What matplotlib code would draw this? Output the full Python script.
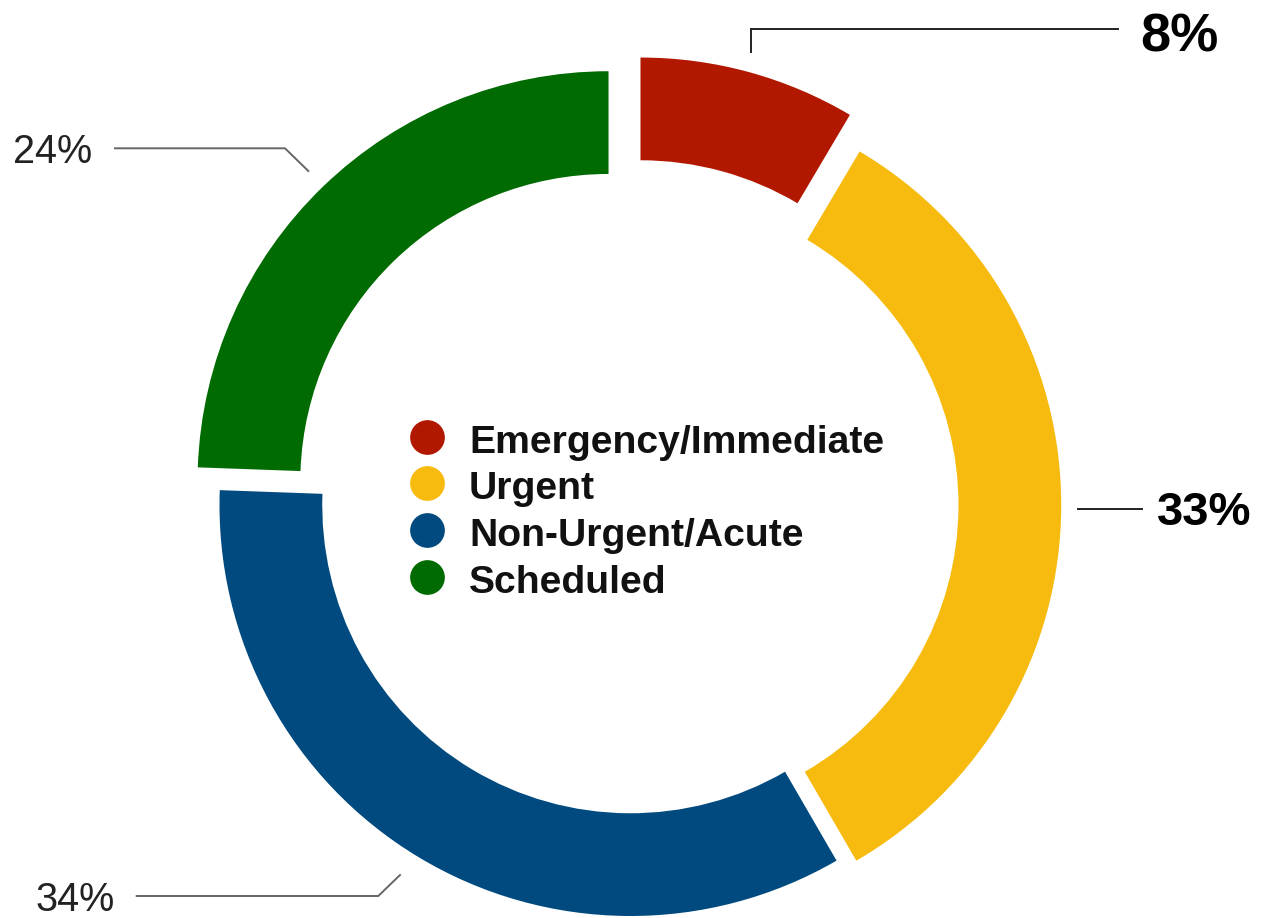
import matplotlib
matplotlib.use("Agg")
import matplotlib.pyplot as plt

# data
categories = ["Emergency/Immediate", "Urgent", "Non-Urgent/Acute", "Scheduled"]
shares = [8.5, 33.1, 33.9, 24.4]          # arc sizes as drawn
pct_labels = ["8%", "33%", "34%", "24%"]

colors = ["#b21800", "#f6bb0e", "#004a7f", "#006b00"]
explode = [0.092, 0.048, 0.0, 0.077]

W, H = 1264, 918
CX, CY, R = 630.5, 505, 411   # ring centre / radius in pixels


def fig_xy(x, y):
    # pixel (from top-left) -> figure fraction
    return x / W, 1 - y / H


def main():
    plt.rcParams['font.family'] = ['Liberation Sans', 'DejaVu Sans']

    fig = plt.figure(figsize=(W / 100, H / 100), dpi=100)
    ax = fig.add_axes([0, 0, 1, 1])

    ax.pie(shares, colors=colors, startangle=90, counterclock=False,
           explode=explode, radius=1,
           wedgeprops=dict(width=0.25, linewidth=0))
    ax.set_xlim(-CX / R, (W - CX) / R)
    ax.set_ylim(-(H - CY) / R, CY / R)
    ax.set_aspect('equal')
    ax.axis('off')

    # legend in the middle of the ring
    rows = [453, 499.5, 546.5, 593]
    for name, col, base in zip(categories, colors, rows):
        mx, my = fig_xy(427, base - 16.5)
        ax.scatter([mx], [my], s=25 ** 2, color=col, transform=fig.transFigure,
                   clip_on=False, linewidths=0)
        tx, ty = fig_xy(469, base)
        fig.text(tx, ty, name, fontsize=28.2, fontweight='bold',
                 color='#111111', va='baseline', ha='left')

    # leader lines
    leaders = [
        ([(750.7, 51.7), (750.7, 29.3), (1118, 29.3)], '#222222'),
        ([(1078, 509), (1142, 509)], '#222222'),
        ([(308.3, 171), (285, 148.3), (115, 148.3)], '#666666'),
        ([(400, 875), (378.3, 896), (136.7, 896)], '#666666'),
    ]
    for pts, col in leaders:
        xs, ys = zip(*[fig_xy(x, y) for x, y in pts])
        ax.plot(xs, ys, color=col, lw=1.4, transform=fig.transFigure,
                clip_on=False, solid_joinstyle='miter')

    # percentage labels
    label_pos = [(1140, 52, 39, 'bold', 'black'),
                 (1157, 525, 34, 'bold', 'black'),
                 (35, 910.7, 28.5, 'normal', '#222222'),
                 (13, 163.3, 28.5, 'normal', '#222222')]
    for txt, (x, y, fs, fw, col) in zip(pct_labels, label_pos):
        tx, ty = fig_xy(x, y)
        fig.text(tx, ty, txt, fontsize=fs, fontweight=fw, color=col,
                 va='baseline', ha='left')

    fig.savefig('out.png', dpi=100)


if __name__ == "__main__":
    main()
